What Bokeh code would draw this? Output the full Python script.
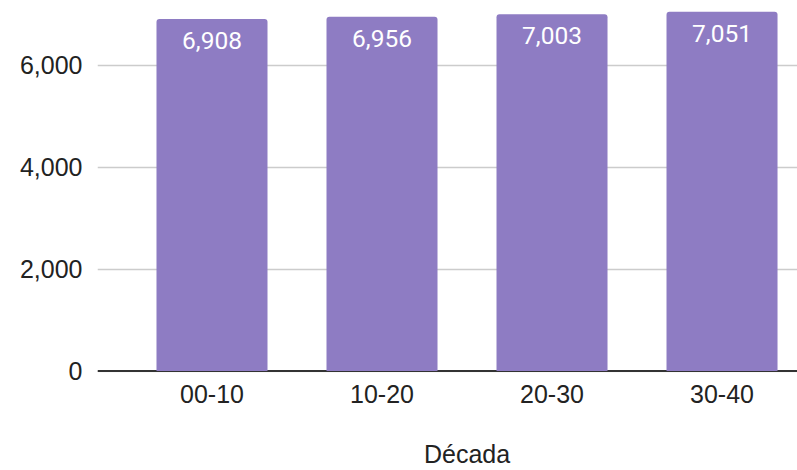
from bokeh.plotting import figure
from bokeh.models import ColumnDataSource, Range1d, FixedTicker, NumeralTickFormatter, Span, LinearAxis
from bokeh.core.properties import value
from bokeh.embed import file_html
from bokeh.resources import INLINE

categories = ["00-10", "10-20", "20-30", "30-40"]
values = [6908, 6956, 7003, 7051]
y_ticks = [0, 2000, 4000, 6000]
x_title = "Década"

x = list(range(len(categories)))
labels = [f"{v:,}" for v in values]
src = ColumnDataSource(dict(x=x, top=values, label=labels))

p = figure(width=797, height=470, output_backend="svg", toolbar_location=None,
           x_range=Range1d(-0.6735, 3.444), y_range=Range1d(-29.4, 7273),
           min_border_left=97, min_border_right=0, min_border_top=0, min_border_bottom=98)
p.outline_line_color = None
p.background_fill_color = "white"

p.add_layout(Span(location=0, dimension="width", line_color="#333333", line_width=2, level="underlay"))

p.vbar(x="x", top="top", bottom=0, width=0.653, source=src, fill_color="#8e7cc3",
       line_color=None, border_radius=(3, 3, 0, 0))
p.text(x="x", y="top", text="label", source=src, text_align="center", text_baseline="top",
       y_offset=13, text_color="white", text_font=value("Roboto"), text_font_size="24.5px")

p.xgrid.visible = False
p.ygrid.grid_line_color = "#cccccc"
p.ygrid.grid_line_width = 1.5


def style_axis(ax, standoff):
    ax.axis_line_color = None
    ax.major_tick_line_color = None
    ax.minor_tick_line_color = None
    ax.major_tick_out = 0
    ax.major_tick_in = 0
    ax.major_label_standoff = standoff
    ax.major_label_text_font = "Liberation Sans"
    ax.major_label_text_font_size = "25px"
    ax.major_label_text_color = "#222222"


xa = p.xaxis[0]
xa.ticker = FixedTicker(ticks=x)
xa.major_label_overrides = {i: c for i, c in zip(x, categories)}
style_axis(xa, 12)

# axis title, centred under the group of bars
mid = (x[0] + x[-1]) / 2
xt = LinearAxis(ticker=FixedTicker(ticks=[mid]), major_label_overrides={mid: x_title})
style_axis(xt, 34)
p.add_layout(xt, "below")

ya = p.yaxis[0]
ya.ticker = FixedTicker(ticks=y_ticks)
ya.formatter = NumeralTickFormatter(format="0,0")
style_axis(ya, 15)

open("out.html", "w").write(file_html(p, INLINE))
